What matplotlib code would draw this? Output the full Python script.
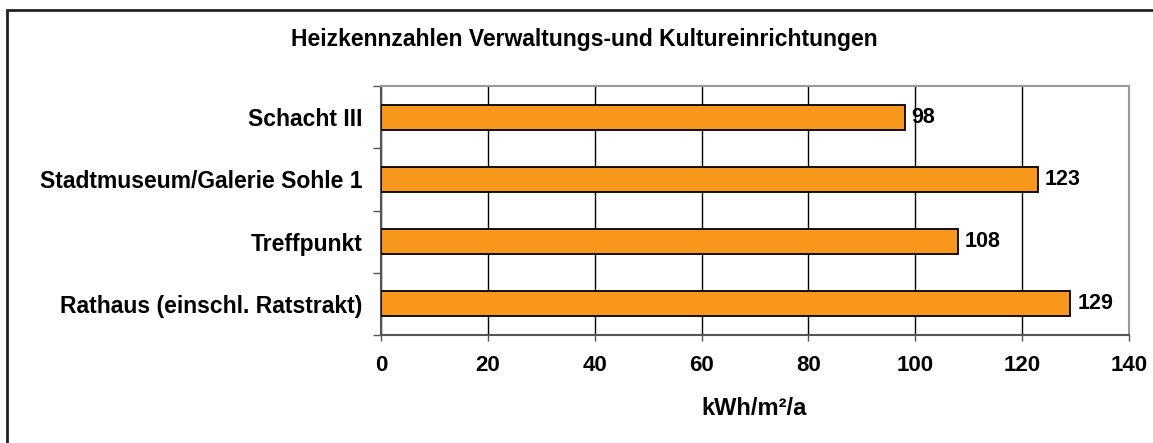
import matplotlib.pyplot as plt
import matplotlib.patches as patches

# data
categories = ["Rathaus (einschl. Ratstrakt)", "Treffpunkt",
              "Stadtmuseum/Galerie Sohle 1", "Schacht III"]
values = [129, 108, 123, 98]
xticks = [0, 20, 40, 60, 80, 100, 120, 140]

plt.rcParams['font.family'] = ['Liberation Sans', 'DejaVu Sans']
plt.rcParams['font.weight'] = 'bold'

fig = plt.figure(figsize=(11.53, 4.43), dpi=100)
W, H = 1153, 443

# outer frame (runs off the right and bottom edge)
frame = patches.Rectangle((7 / W, -0.05), 1.2, 1 - 10 / H + 0.05,
                          transform=fig.transFigure, fill=False,
                          edgecolor='#222222', lw=2)
fig.patches.append(frame)

ax = fig.add_axes([381 / W, 1 - 335 / H, (1129 - 381) / W, (335 - 86) / H])
ypos = list(range(len(categories)))
bars = ax.barh(ypos, values, height=0.4, color='#F7981D',
               edgecolor='black', lw=1.3, zorder=3)
for b, v in zip(bars, values):
    ax.text(v + 1.3, b.get_y() + b.get_height() / 2, str(v),
            va='center', ha='left', fontsize=15.5, fontweight='bold')

ax.set_xlim(0, 140)
ax.set_ylim(-0.5, len(categories) - 0.5)
ax.set_xticks(xticks)
ax.set_yticks(ypos)
ax.set_yticklabels(categories, fontsize=16.5, fontweight='bold')
ax.set_yticks([y + 0.5 for y in range(-1, len(categories))], minor=True)
ax.tick_params(axis='y', which='major', length=0, pad=13.5)
ax.tick_params(axis='y', which='minor', length=6, color='#555555', width=1)
ax.tick_params(axis='x', length=4.5, color='#555555', width=1, labelsize=16, pad=10)
for lab in ax.get_xticklabels():
    lab.set_fontweight('bold')

ax.xaxis.grid(True, color='black', lw=1)
ax.set_axisbelow(True)
for s in ['top', 'right']:
    ax.spines[s].set_color('#999999')
    ax.spines[s].set_linewidth(1.5)
for s in ['left', 'bottom']:
    ax.spines[s].set_color('#555555')
    ax.spines[s].set_linewidth(1.5)

fig.text(754 / W, 1 - 415 / H, "kWh/m²/a", ha='center', va='baseline',
         fontsize=17, fontweight='bold')
fig.text(584 / W, 1 - 46 / H, "Heizkennzahlen Verwaltungs-und Kultureinrichtungen",
         ha='center', va='baseline', fontsize=16.5, fontweight='bold')

fig.savefig("out.png", dpi=100)
